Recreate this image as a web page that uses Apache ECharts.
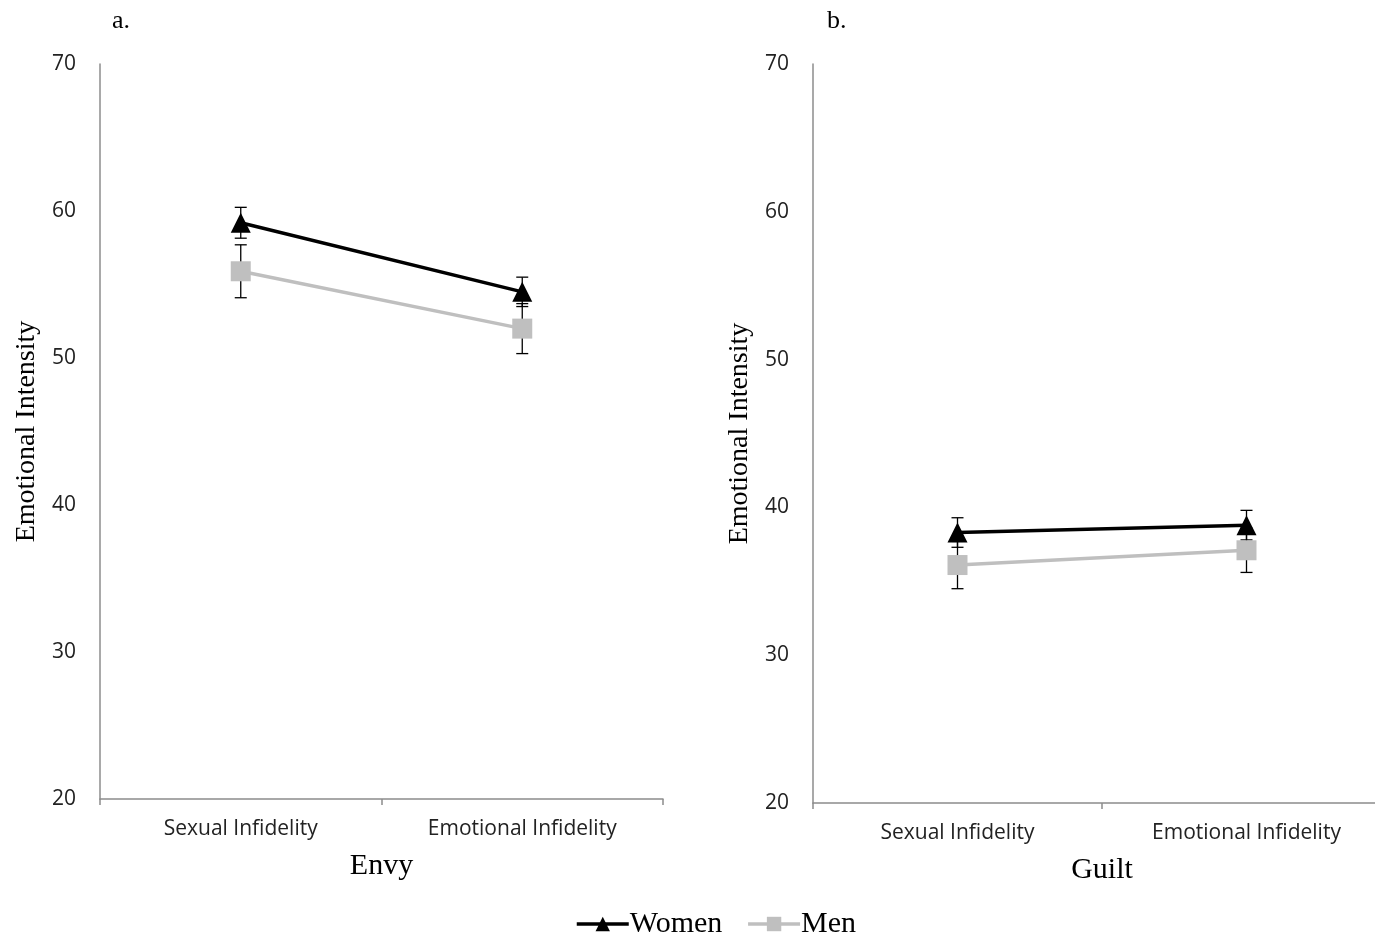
<!DOCTYPE html>
<html><head><meta charset="utf-8">
<script src="https://cdn.jsdelivr.net/npm/echarts@6/dist/echarts.min.js"></script>
<style>html,body{margin:0;padding:0;background:#fff}#c{width:1375px;height:938px}</style>
</head><body><div id="c"></div><script>
const categories = ['Sexual Infidelity', 'Emotional Infidelity'];
const envyWomen = [59.2, 54.5];
const envyWomenErr = [1.05, 1.0];
const envyMen = [55.9, 52.0];
const envyMenErr = [1.8, 1.7];
const guiltWomen = [38.3, 38.8];
const guiltWomenErr = [1.0, 1.0];
const guiltMen = [36.1, 37.1];
const guiltMenErr = [1.6, 1.5];
const yTicks = [20, 30, 40, 50, 60, 70];
const panelTitles = ['a.', 'b.'];
const panelNames = ['Envy', 'Guilt'];

function errData(vals, errs) {
  return vals.map((v, i) => [i, v - errs[i], v + errs[i]]);
}
function errItem(params, api) {
  const x = api.value(0);
  const lo = api.coord([x, api.value(1)]);
  const hi = api.coord([x, api.value(2)]);
  const w = 6;
  const style = { stroke: '#000', lineWidth: 1.3 };
  return { type: 'group', children: [
    { type: 'line', shape: { x1: lo[0], y1: lo[1], x2: hi[0], y2: hi[1] }, style },
    { type: 'line', shape: { x1: lo[0] - w, y1: lo[1], x2: lo[0] + w, y2: lo[1] }, style },
    { type: 'line', shape: { x1: hi[0] - w, y1: hi[1], x2: hi[0] + w, y2: hi[1] }, style }
  ]};
}
const axisGray = '#8c8c8c';
const sansLabel = { fontFamily: 'Open Sans', fontSize: 21, color: '#222' };
const serif = 'Liberation Serif';

function xAx(idx, name) {
  return {
    type: 'category', gridIndex: idx, data: categories, boundaryGap: true,
    name: name, nameLocation: 'middle', nameGap: 52,
    nameTextStyle: { fontFamily: serif, fontSize: 30, color: '#000' },
    axisLine: { lineStyle: { color: axisGray, width: 1.5 } },
    axisTick: { show: true, length: 6, lineStyle: { color: axisGray, width: 1.5 } },
    axisLabel: Object.assign({ margin: 20 }, sansLabel),
    splitLine: { show: false }
  };
}
function yAx(idx) {
  return {
    type: 'value', gridIndex: idx, min: yTicks[0], max: yTicks[yTicks.length - 1], interval: 10,
    name: 'Emotional Intensity', nameLocation: 'middle', nameGap: 59,
    nameTextStyle: { fontFamily: serif, fontSize: 28, color: '#000' },
    axisLine: { show: true, lineStyle: { color: axisGray, width: 1.5 } },
    axisTick: { show: false },
    axisLabel: Object.assign({ margin: 24 }, sansLabel),
    splitLine: { show: false }
  };
}
function lineS(name, idx, data, color, symbol) {
  return {
    type: 'line', name: name, xAxisIndex: idx, yAxisIndex: idx, data: data,
    symbol: symbol, symbolSize: 20, z: 5,
    lineStyle: { color: color, width: 3.5 },
    itemStyle: { color: color }
  };
}
function errS(idx, vals, errs) {
  return {
    type: 'custom', xAxisIndex: idx, yAxisIndex: idx, data: errData(vals, errs),
    renderItem: errItem, encode: { x: 0, y: [1, 2] }, z: 2, silent: true
  };
}

const chart = echarts.init(document.getElementById('c'));
chart.setOption({
  animation: false,
  backgroundColor: '#fff',
  title: [
    { text: panelTitles[0], left: 107, top: 3, textStyle: { fontFamily: serif, fontSize: 26, fontWeight: 'normal', color: '#000' } },
    { text: panelTitles[1], left: 822, top: 3, textStyle: { fontFamily: serif, fontSize: 26, fontWeight: 'normal', color: '#000' } }
  ],
  grid: [
    { left: 100, width: 563, top: 64, bottom: 139, outerBoundsMode: 'none', containLabel: false },
    { left: 813, width: 578, top: 64, bottom: 135, outerBoundsMode: 'none', containLabel: false }
  ],
  xAxis: [xAx(0, panelNames[0]), xAx(1, panelNames[1])],
  yAxis: [yAx(0), yAx(1)],
  legend: {
    data: ['Women', 'Men'], top: 904, left: 570,
    itemWidth: 52, itemHeight: 18, itemGap: 24,
    lineStyle: { width: 3.5 },
    textStyle: { fontFamily: serif, fontSize: 30, color: '#000', padding: [0, 0, 0, -4] }
  },
  series: [
    errS(0, envyWomen, envyWomenErr),
    errS(0, envyMen, envyMenErr),
    errS(1, guiltWomen, guiltWomenErr),
    errS(1, guiltMen, guiltMenErr),
    lineS('Women', 0, envyWomen, '#000', 'triangle'),
    lineS('Men', 0, envyMen, '#bfbfbf', 'rect'),
    lineS('Women', 1, guiltWomen, '#000', 'triangle'),
    lineS('Men', 1, guiltMen, '#bfbfbf', 'rect')
  ]
});
</script></body></html>
